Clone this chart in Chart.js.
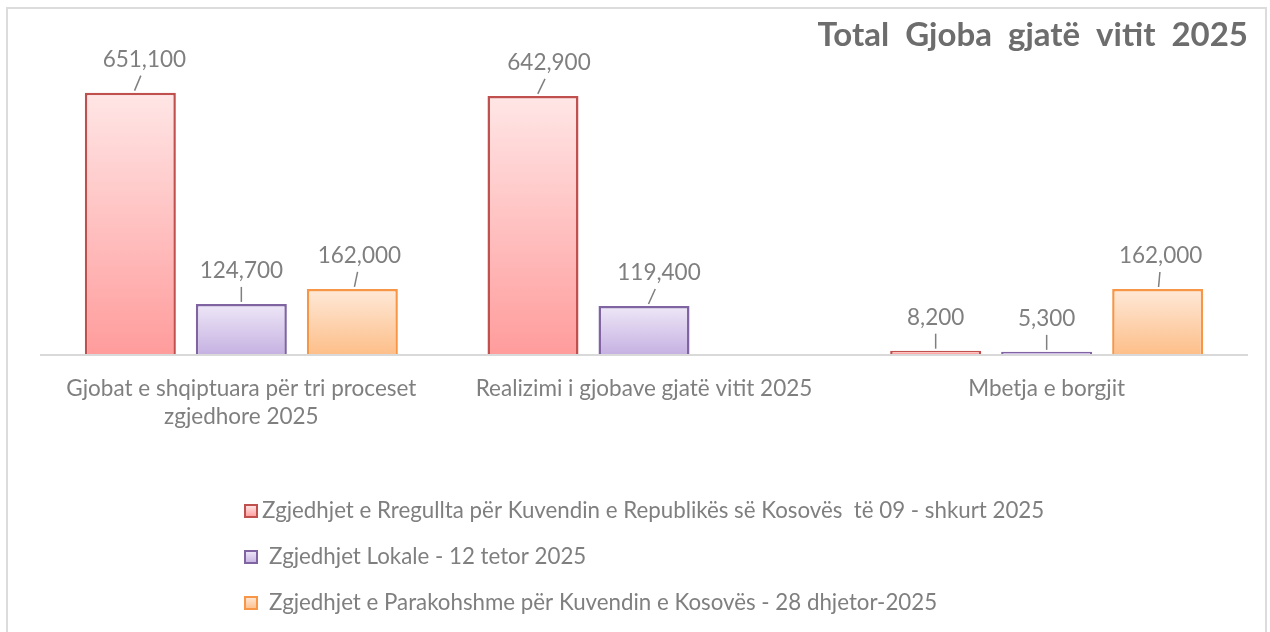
<!DOCTYPE html>
<html>
<head>
<meta charset="utf-8">
<script src="https://cdn.jsdelivr.net/npm/chart.js@4"></script>
<style>
  html, body { margin: 0; padding: 0; background: #fff; }
  #wrap { width: 1270px; height: 632px; position: relative; }
</style>
</head>
<body>
<div id="wrap"><canvas id="chart"></canvas></div>
<script>
'use strict';

var categories = [
  ['Gjobat e shqiptuara për tri proceset', 'zgjedhore 2025'],
  'Realizimi i gjobave gjatë vitit 2025',
  'Mbetja e borgjit'
];
var seriesNames = [
  'Zgjedhjet e Rregullta për Kuvendin e Republikës së Kosovës  të 09 - shkurt 2025',
  'Zgjedhjet Lokale - 12 tetor 2025',
  'Zgjedhjet e Parakohshme për Kuvendin e Kosovës - 28 dhjetor-2025'
];
var rregullta = [651100, 642900, 8200];
var lokale = [124700, 119400, 5300];
var parakohshme = [162000, null, 162000];

var FONT = 'Lato, "Noto Sans", sans-serif';

// top / bottom of the gradient, and border, per series
var palette = [
  { top: '#ffe6e6', bottom: '#ff9c9c', border: '#c0504d' },
  { top: '#eee7f7', bottom: '#c6b2e2', border: '#8064a2' },
  { top: '#fee9d8', bottom: '#fdbf8a', border: '#f79646' }
];

function barFill(pal) {
  return function(ctx) {
    var chart = ctx.chart;
    if (!chart.chartArea || ctx.type !== 'data' || ctx.raw == null) {
      return pal.bottom;
    }
    var y = chart.scales.y;
    var top = y.getPixelForValue(ctx.raw);
    var bottom = y.getPixelForValue(0);
    if (bottom - top < 1) return pal.bottom;
    var g = chart.ctx.createLinearGradient(0, top, 0, bottom);
    g.addColorStop(0, pal.top);
    g.addColorStop(1, pal.bottom);
    return g;
  };
}

// light frame round the picture, and the zero line
var framePlugin = {
  id: 'frame',
  beforeDraw: function(chart) {
    var c = chart.ctx;
    c.save();
    c.strokeStyle = '#dcdcdc';
    c.lineWidth = 2;
    c.beginPath();
    c.moveTo(7, 640);
    c.lineTo(7, 8);
    c.lineTo(1266, 8);
    c.lineTo(1266, 640);
    c.stroke();
    c.restore();
  },
  beforeDatasetsDraw: function(chart) {
    var c = chart.ctx;
    var x = chart.scales.x;
    var n = chart.data.labels.length;
    var half = (x.getPixelForValue(1) - x.getPixelForValue(0)) / 2;
    var x0 = x.getPixelForValue(0) - half;
    var x1 = x.getPixelForValue(n - 1) + half;
    var y0 = chart.scales.y.getPixelForValue(0);
    c.save();
    c.strokeStyle = '#d9d9d9';
    c.lineWidth = 2;
    c.beginPath();
    c.moveTo(x0, y0 + 1);
    c.lineTo(x1, y0 + 1);
    c.stroke();
    c.restore();
  }
};

// value labels with short leader lines
var leaderLabels = {
  id: 'leaderLabels',
  afterDatasetsDraw: function(chart, args, opts) {
    var c = chart.ctx;
    c.save();
    c.font = '22.5px ' + FONT;
    c.fillStyle = '#7f7f7f';
    c.strokeStyle = '#7f7f7f';
    c.lineWidth = 1.5;
    c.textAlign = 'center';
    c.textBaseline = 'alphabetic';
    chart.data.datasets.forEach(function(ds, di) {
      var meta = chart.getDatasetMeta(di);
      meta.data.forEach(function(bar, i) {
        var v = ds.data[i];
        if (v == null) return;
        var n = opts.nudge[di][i];
        c.beginPath();
        c.moveTo(bar.x + n * 0.3, bar.y - 2);
        c.lineTo(bar.x + n * 0.75, bar.y - 17);
        c.stroke();
        c.fillText(v.toLocaleString('en-US'), bar.x + n, bar.y - 26);
      });
    });
    c.restore();
  }
};

// stacked legend at the bottom
var stackLegend = {
  id: 'stackLegend',
  afterDraw: function(chart, args, opts) {
    var c = chart.ctx;
    c.save();
    c.font = '22.3px ' + FONT;
    c.textBaseline = 'middle';
    c.textAlign = 'left';
    chart.data.datasets.forEach(function(ds, i) {
      var y = opts.top + i * opts.step;
      var pal = palette[i];
      var g = c.createLinearGradient(0, y - 6, 0, y + 6);
      g.addColorStop(0, pal.top);
      g.addColorStop(1, pal.bottom);
      c.fillStyle = g;
      c.fillRect(opts.left, y - 6, 12, 12);
      c.strokeStyle = pal.border;
      c.lineWidth = 2;
      c.strokeRect(opts.left, y - 6, 12, 12);
      c.fillStyle = '#7f7f7f';
      c.fillText(ds.label, opts.left + (i === 0 ? 17 : 24), y);
    });
    c.restore();
  }
};

var ctx = document.getElementById('chart').getContext('2d');
var datasets = [rregullta, lokale, parakohshme].map(function(values, i) {
  return {
    label: seriesNames[i],
    data: values,
    backgroundColor: barFill(palette[i]),
    borderColor: palette[i].border,
    borderWidth: 2.5,
    borderSkipped: 'bottom',
    categoryPercentage: 0.827,
    barPercentage: 0.82
  };
});

var myChart = new Chart(ctx, {
  type: 'bar',
  data: {
    labels: categories,
    datasets: datasets
  },
  options: {
    responsive: true,
    maintainAspectRatio: false,
    animation: false,
    layout: {
      padding: { left: 40, right: 22, top: 0, bottom: 180 }
    },
    scales: {
      x: {
        grid: { display: false, drawTicks: false },
        border: { display: false },
        ticks: {
          color: '#7f7f7f',
          padding: 21,
          font: { family: FONT, size: 22.5, lineHeight: 1.245 }
        }
      },
      y: {
        display: false,
        min: 0,
        max: 700000
      }
    },
    plugins: {
      legend: { display: false },
      tooltip: { enabled: false },
      title: {
        display: true,
        text: 'Total  Gjoba  gjatë  vitit  2025',
        align: 'end',
        color: '#6d6d6d',
        font: { family: FONT, size: 33, weight: 'bold', lineHeight: 1.2 },
        padding: { top: 16, bottom: 17.4 }
      },
      leaderLabels: {
        nudge: [[14, 16, 0], [0, 15, 0], [7, 0, 3]]
      },
      stackLegend: { left: 245, top: 511, step: 46 }
    }
  },
  plugins: [framePlugin, leaderLabels, stackLegend]
});
</script>
</body>
</html>
